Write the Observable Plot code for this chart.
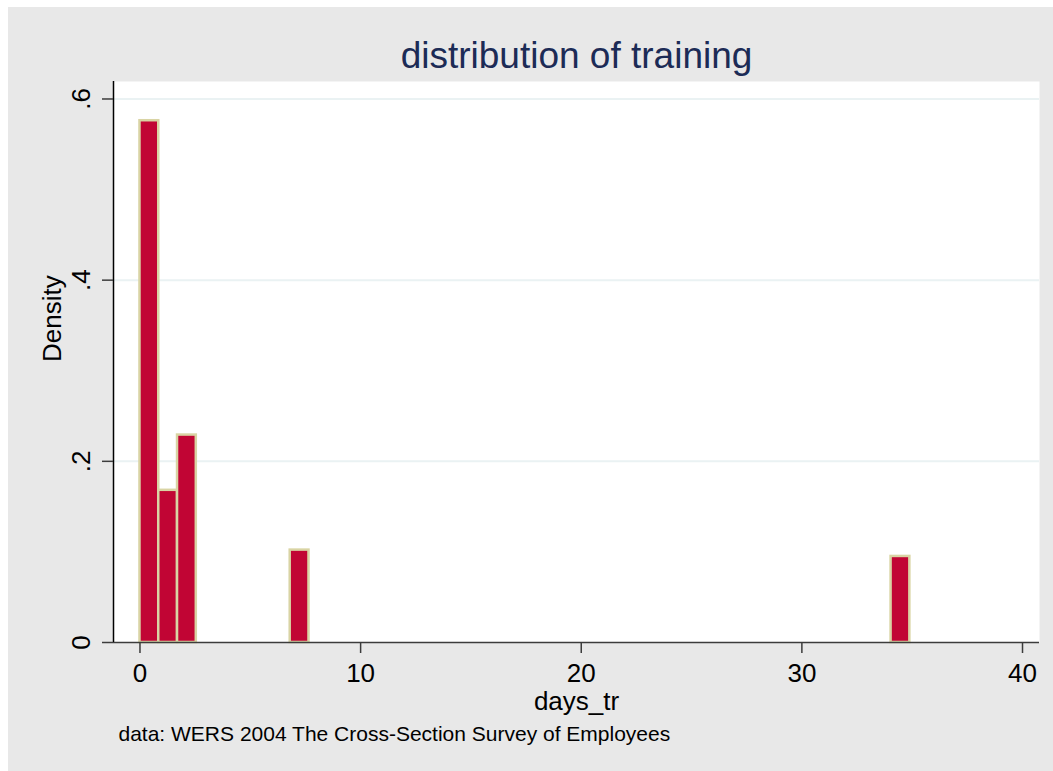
<!DOCTYPE html>
<html>
<head>
<meta charset="utf-8">
<script src="https://cdn.jsdelivr.net/npm/d3@7"></script>
<script src="https://cdn.jsdelivr.net/npm/@observablehq/plot@0.6"></script>
<style>
  html, body { margin: 0; padding: 0; background: #ffffff; }
  #wrap { position: relative; width: 1053px; height: 771px; overflow: hidden; }
  #bg { position: absolute; left: 8px; top: 7px; right: 0; bottom: 0; background: #e8e8e8; }
  #chart { position: absolute; left: 0; top: 0; }
</style>
</head>
<body>
<div id="wrap"><div id="bg"></div><div id="chart"></div></div>
<script>
// Histogram bins (days_tr), bin width = 40/47
const binStart = [0, 0.851, 1.702, 6.809, 34.043];
const binEnd   = [0.851, 1.702, 2.553, 7.660, 34.894];
const density  = [0.576, 0.168, 0.229, 0.102, 0.095];

const xTicks = [0, 10, 20, 30, 40];
const yTicks = [0, 0.2, 0.4, 0.6];
const yTickLabels = ["0", ".2", ".4", ".6"];

const titleText = "distribution of training";
const xLabel = "days_tr";
const yLabel = "Density";
const captionText = "data: WERS 2004 The Cross-Section Survey of Employees";

const bins = binStart.map((s, i) => ({x1: s, x2: binEnd[i], y: density[i]}));

const xMin = -1.2, xMax = 40.77;
const FONT = "'Liberation Sans', Arial, Helvetica, sans-serif";

const chart = Plot.plot({
  width: 1053,
  height: 771,
  marginLeft: 113,
  marginRight: 14,
  marginTop: 81,
  marginBottom: 129,
  style: {background: "transparent", fontFamily: FONT, color: "#000"},
  x: {domain: [xMin, xMax], axis: null},
  y: {domain: [0, 0.6193], axis: null},
  marks: [
    Plot.frame({fill: "#ffffff", stroke: null}),
    Plot.gridY(yTicks.filter(d => d > 0), {stroke: "#eaf2f3", strokeOpacity: 1, strokeWidth: 2}),
    Plot.rectY(bins, {x1: "x1", x2: "x2", y: "y", fill: "#c10534", stroke: "#d9d4a4", strokeWidth: 2.5}),
    Plot.ruleY([0], {stroke: "#3c3c3c", strokeWidth: 1.5}),
    Plot.ruleX([xMin], {stroke: "#000000", strokeWidth: 1.5}),
    Plot.axisX({ticks: xTicks, tickSize: 11, tickPadding: 10, fontSize: 26, stroke: "#3c3c3c", strokeWidth: 1.5, tickFormat: d => String(d), label: null}),
    Plot.axisY({ticks: yTicks, tickSize: 11, tickPadding: 13, tickRotate: -90, fontSize: 26, stroke: "#3c3c3c", strokeWidth: 1.5, tickFormat: d => yTickLabels[yTicks.indexOf(d)], label: null}),
    Plot.text([xLabel], {frameAnchor: "bottom", lineAnchor: "top", dy: 49, fontSize: 26, fill: "#000"}),
    Plot.text([yLabel], {frameAnchor: "left", lineAnchor: "middle", rotate: -90, dx: -61, fontSize: 26, fill: "#000"}),
    Plot.text([titleText], {frameAnchor: "top", lineAnchor: "middle", dy: -25, fontSize: 37, fill: "#1c2b56"}),
    Plot.text([captionText], {frameAnchor: "bottom-left", textAnchor: "start", lineAnchor: "top", dx: 5, dy: 84, fontSize: 21, fill: "#000"})
  ]
});
document.getElementById("chart").appendChild(chart);
</script>
</body>
</html>
